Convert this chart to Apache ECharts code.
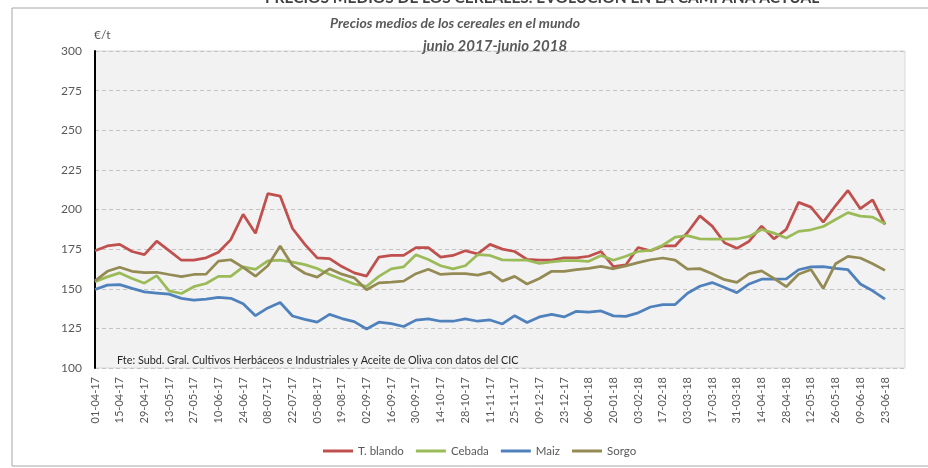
<!DOCTYPE html>
<html>
<head>
<meta charset="utf-8">
<title>Precios medios de los cereales en el mundo</title>
<script src="https://cdn.jsdelivr.net/npm/echarts@6.0.0/dist/echarts.min.js"></script>
<style>
    html, body { margin: 0; padding: 0; background: #ffffff; }
    #chart { width: 928px; height: 468px; }
</style>
</head>
<body>
<div id="chart"></div>
<script>
// Semanas (sábados) de 01-04-17 a 23-06-18
const fechas = [
    '01-04-17', '08-04-17', '15-04-17', '22-04-17', '29-04-17', '06-05-17', '13-05-17', '20-05-17',
    '27-05-17', '03-06-17', '10-06-17', '17-06-17', '24-06-17', '01-07-17', '08-07-17', '15-07-17',
    '22-07-17', '29-07-17', '05-08-17', '12-08-17', '19-08-17', '26-08-17', '02-09-17', '09-09-17',
    '16-09-17', '23-09-17', '30-09-17', '07-10-17', '14-10-17', '21-10-17', '28-10-17', '04-11-17',
    '11-11-17', '18-11-17', '25-11-17', '02-12-17', '09-12-17', '16-12-17', '23-12-17', '30-12-17',
    '06-01-18', '13-01-18', '20-01-18', '27-01-18', '03-02-18', '10-02-18', '17-02-18', '24-02-18',
    '03-03-18', '10-03-18', '17-03-18', '24-03-18', '31-03-18', '07-04-18', '14-04-18', '21-04-18',
    '28-04-18', '05-05-18', '12-05-18', '19-05-18', '26-05-18', '02-06-18', '09-06-18', '16-06-18',
    '23-06-18'
];

const tBlando = [
    174, 177, 178, 173.5, 171.5, 180, 174, 168, 168, 169.5,
    173, 181, 197, 185, 210, 208.5, 188, 178, 169.5, 169,
    164, 160, 158, 170, 171, 171, 176, 176, 170, 171,
    174, 172, 178, 175, 173.5, 168.5, 168, 168, 169.5, 169.5,
    170.5, 173.5, 164, 165, 176, 174, 177, 177, 185.5, 196,
    189.5, 179, 175.5, 180, 189.5, 181.5, 187.5, 204.5, 201.5, 192,
    202.5, 212, 200.5, 206, 190.5
];

const cebada = [
    154.5, 157.5, 160, 156.5, 153.5, 158.3, 148.7, 147, 151.3, 153.3,
    157.8, 157.8, 163.8, 162.2, 167.6, 168, 166.8, 165.2, 162.8, 159,
    156, 153, 151.5, 157.8, 162.5, 163.8, 171.5, 168.5, 164.5, 162.5,
    164.5, 171.5, 171, 168.2, 168, 168, 166, 167, 167.8, 167.8,
    167.3, 171, 168, 170.5, 173.5, 174.2, 177.5, 182.5, 183.5, 181.5,
    181.3, 181.3, 181.4, 183, 187.4, 185.1, 182, 186.2, 187.2, 189.3,
    193.7, 198, 195.8, 195.2, 191
];

const maiz = [
    149.5, 152.3, 152.6, 150.2, 148, 147.3, 146.6, 143.9, 142.8, 143.4,
    144.5, 144, 140.5, 133, 137.9, 141.3, 132.8, 130.7, 128.9, 133.8,
    131.2, 129.3, 124.6, 128.9, 128, 126.2, 130.2, 131, 129.5, 129.5,
    131, 129.5, 130.3, 127.8, 133, 128.7, 132.2, 133.8, 132.2, 135.8,
    135.2, 136, 132.9, 132.6, 134.8, 138.5, 140, 140, 147.2, 151.6,
    153.9, 150.8, 147.5, 153, 156, 156, 156.2, 162, 163.8, 164,
    162.8, 162, 153, 148.7, 143.5
];

const sorgo = [
    155, 161, 163.6, 161, 160.2, 160.4, 159, 157.7, 159, 159.2,
    167.4, 168.3, 163.5, 157.9, 164.5, 177, 164.7, 159.8, 157.3, 162.6,
    159.2, 156.9, 149.4, 153.7, 154.2, 154.8, 159.5, 162.3, 159, 159.5,
    159.5, 158.6, 160.5, 154.8, 157.8, 153, 156.5, 161, 161, 162,
    162.9, 164.1, 162.6, 164.4, 166.5, 168.3, 169.4, 168, 162.4, 162.7,
    159.5, 155.7, 154, 159.5, 161.3, 156.5, 151.3, 159.2, 162.2, 150.2,
    165.8, 170.4, 169.4, 165.8, 161.6
];

const nombres = ['T. blando', 'Cebada', 'Maiz', 'Sorgo'];
const colores = ['#c0504d', '#9bbb59', '#4f81bd', '#948a54'];
const valores = [tBlando, cebada, maiz, sorgo];

const FONT = 'Lato, "Open Sans", sans-serif';
const GRIS = '#595959';

let chart = echarts.init(document.getElementById('chart'));

// Title style (both lines)
const tituloEstilo = {
    fontFamily: FONT,
    fontSize: 14,
    fontStyle: 'italic',
    fontWeight: 'bold',
    color: GRIS
};

chart.setOption({

    textStyle: {
        fontFamily: FONT
    },

    // Title, two lines
    title: [
        {
            text: 'Precios medios de los cereales en el mundo',
            left: 450,
            top: 11,
            textAlign: 'center',
            textStyle: tituloEstilo
        },
        {
            text: 'junio 2017-junio 2018',
            left: 490,
            top: 34,
            textAlign: 'center',
            textStyle: Object.assign({}, tituloEstilo, { fontSize: 15 })
        }
    ],

    // Legend
    legend: {
        data: nombres,
        left: 318,
        top: 440,
        icon: 'rect',
        itemWidth: 30,
        itemHeight: 3,
        itemGap: 12,
        textStyle: {
            fontFamily: FONT,
            fontSize: 11.5,
            color: GRIS
        }
    },

    // grid 0 = plot area (background, y axis); grid 1 = the lines
    grid: [
        {
            left: 95, right: 23, top: 51, bottom: 100,
            show: true,
            backgroundColor: '#f2f2f2',
            borderColor: '#d9d9d9',
            borderWidth: 1
        },
        { left: 95, width: 790, top: 51, bottom: 100 }
    ],

    xAxis: [
        { gridIndex: 0, type: 'category', data: [], show: false },
        {
            gridIndex: 1,
            type: 'category',
            data: fechas,
            boundaryGap: false,
            axisLine: { show: false },
            axisTick: { show: false },
            axisLabel: {
                rotate: 90,
                interval: 1,
                margin: 9,
                padding: [11, 0, 0, 0],
                fontFamily: FONT,
                fontSize: 11,
                color: GRIS
            }
        }
    ],

    yAxis: [
        {
            gridIndex: 0,
            type: 'value',
            min: 100,
            max: 300,
            interval: 25,
            axisLine: { show: true, lineStyle: { color: '#000000', width: 2 } },
            axisTick: { show: false },
            axisLabel: { margin: 13, fontFamily: FONT, fontSize: 12, color: GRIS },
            splitLine: { lineStyle: { color: '#c3c3c3', width: 1, type: [4, 3] } }
        },
        { gridIndex: 1, type: 'value', min: 100, max: 300, show: false }
    ],

    // Series
    series: nombres.map((n, k) => ({
        name: n,
        type: 'line',
        xAxisIndex: 1,
        yAxisIndex: 1,
        symbol: 'none',
        color: colores[k],
        lineStyle: { width: 2.75, color: colores[k] },
        data: valores[k]
    })),

    graphic: [
        // marco de la página
        {
            type: 'rect',
            shape: { x: 12, y: 8, width: 930, height: 458 },
            style: { fill: 'none', stroke: '#a6a6a6', lineWidth: 1 },
            silent: true
        },
        // cabecera cortada
        {
            type: 'text',
            left: 265,
            top: -10,
            style: {
                text: 'PRECIOS MEDIOS DE LOS CEREALES. EVOLUCIÓN EN LA CAMPAÑA ACTUAL',
                fontFamily: FONT,
                fontSize: 15.5,
                fontWeight: 'bold',
                fill: '#404040'
            }
        },
        // unidad
        {
            type: 'text',
            left: 94,
            top: 29,
            style: { text: '€/t', fontFamily: FONT, fontSize: 12, fill: GRIS }
        },
        // fuente
        {
            type: 'text',
            left: 117,
            top: 355,
            z: 10,
            style: {
                text: 'Fte: Subd. Gral. Cultivos Herbáceos e Industriales y Aceite de Oliva con datos del CIC',
                fontFamily: FONT,
                fontSize: 10.8,
                fill: '#262626'
            }
        }
    ]
});
</script>
</body>
</html>
